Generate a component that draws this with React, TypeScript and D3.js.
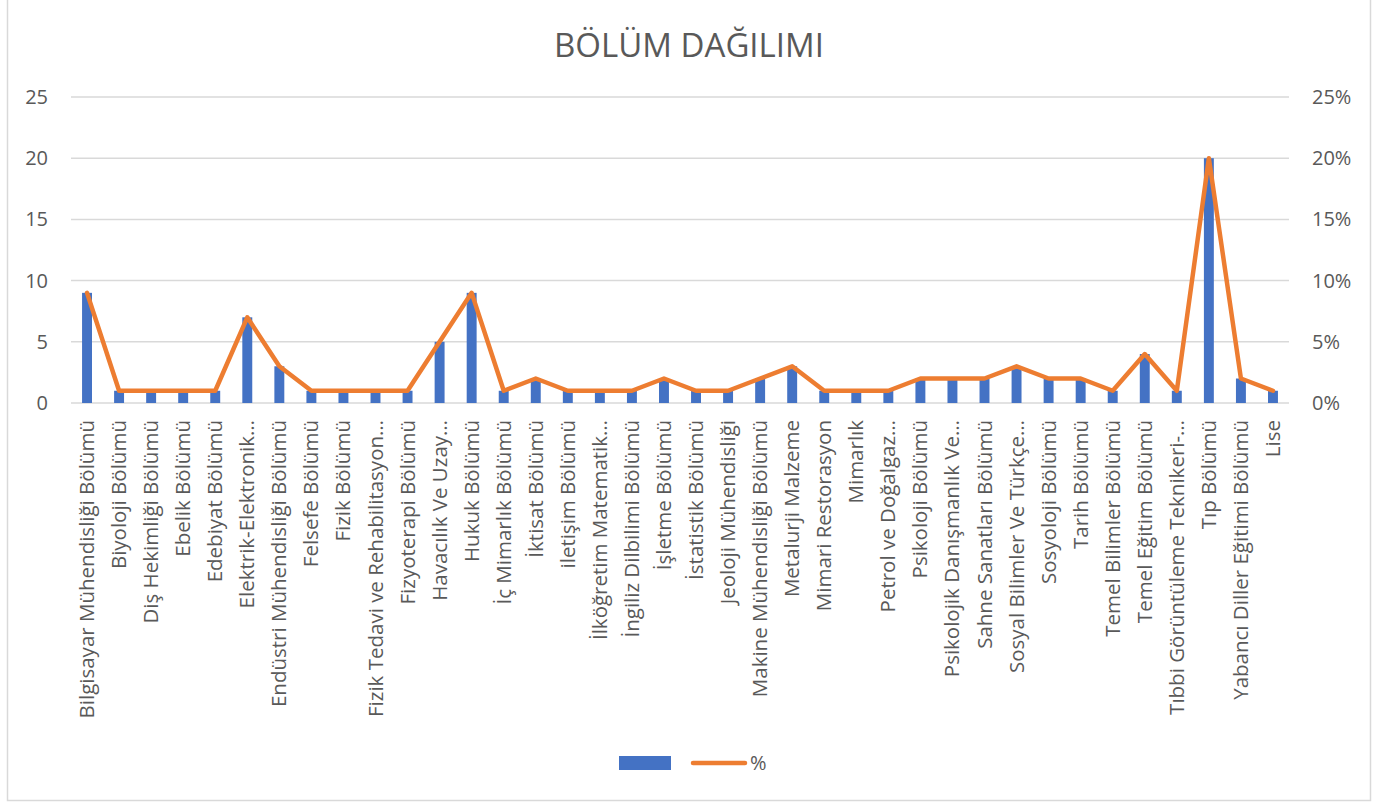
import React, { useEffect, useRef } from 'react';
import * as d3 from 'd3';

// Department names as shown on the axis (Excel truncates the long ones)
const departments = [
  'Bilgisayar Mühendisliği Bölümü',
  'Biyoloji Bölümü',
  'Diş Hekimliği Bölümü',
  'Ebelik Bölümü',
  'Edebiyat Bölümü',
  'Elektrik-Elektronik…',
  'Endüstri Mühendisliği Bölümü',
  'Felsefe Bölümü',
  'Fizik Bölümü',
  'Fizik Tedavi ve Rehabilitasyon…',
  'Fizyoterapi Bölümü',
  'Havacılık Ve Uzay…',
  'Hukuk Bölümü',
  'İç Mimarlık Bölümü',
  'İktisat Bölümü',
  'iletişim Bölümü',
  'İlköğretim Matematik…',
  'İngiliz Dilbilimi Bölümü',
  'İşletme Bölümü',
  'İstatistik Bölümü',
  'Jeoloji Mühendisliği',
  'Makine Mühendisliği Bölümü',
  'Metalurji Malzeme',
  'Mimari Restorasyon',
  'Mimarlık',
  'Petrol ve Doğalgaz…',
  'Psikoloji Bölümü',
  'Psikolojik Danışmanlık Ve…',
  'Sahne Sanatları Bölümü',
  'Sosyal Bilimler Ve Türkçe…',
  'Sosyoloji Bölümü',
  'Tarih Bölümü',
  'Temel Bilimler Bölümü',
  'Temel Eğitim Bölümü',
  'Tıbbi Görüntüleme Teknikeri-…',
  'Tıp Bölümü',
  'Yabancı Diller Eğitimi Bölümü',
  'Lise',
];

// Number of people per department (bars, left axis)
const counts = [9, 1, 1, 1, 1, 7, 3, 1, 1, 1, 1, 5, 9, 1, 2, 1, 1, 1, 2, 1, 1, 2, 3, 1, 1, 1, 2, 2, 2, 3, 2, 2, 1, 4, 1, 20, 2, 1];

// Share in percent (line, right axis)
const percents = [9, 1, 1, 1, 1, 7, 3, 1, 1, 1, 1, 5, 9, 1, 2, 1, 1, 1, 2, 1, 1, 2, 3, 1, 1, 1, 2, 2, 2, 3, 2, 2, 1, 4, 1, 20, 2, 1];

const leftTicks = [0, 5, 10, 15, 20, 25];
const rightTicks = [0, 5, 10, 15, 20, 25];

const FONT = '"Open Sans", "DejaVu Sans", sans-serif';
const TEXT = '#595959';

const App = () => {
  const ref = useRef<SVGSVGElement>(null);

  useEffect(() => {
    const width = 1396;
    const height = 805;
    const plot = { left: 71, right: 1289, top: 97, bottom: 403 };

    const svg = d3.select(ref.current);
    svg.selectAll('*').remove();
    svg.attr('width', width).attr('height', height);

    // Chart frame
    svg.append('rect')
      .attr('x', 7.5).attr('y', -2)
      .attr('width', 1363).attr('height', 802.5)
      .attr('fill', '#fff')
      .attr('stroke', '#d9d9d9')
      .attr('stroke-width', 1.5);

    // Title
    svg.append('text')
      .attr('x', 689).attr('y', 57)
      .attr('text-anchor', 'middle')
      .style('font-family', FONT)
      .style('font-size', '33px')
      .style('fill', TEXT)
      .text('BÖLÜM DAĞILIMI');

    const x = d3.scaleBand()
      .domain(departments)
      .range([plot.left, plot.right])
      .paddingInner(0.69)
      .paddingOuter(0.345);

    const yLeft = d3.scaleLinear().domain([0, 25]).range([plot.bottom, plot.top]);
    const yRight = d3.scaleLinear().domain([0, 25]).range([plot.bottom, plot.top]);

    // Gridlines
    svg.append('g')
      .selectAll('line')
      .data(leftTicks)
      .enter()
      .append('line')
      .attr('x1', plot.left).attr('x2', plot.right)
      .attr('y1', (d) => yLeft(d)).attr('y2', (d) => yLeft(d))
      .attr('stroke', '#d9d9d9')
      .attr('stroke-width', 1.5);

    // Left axis labels
    svg.append('g')
      .selectAll('text')
      .data(leftTicks)
      .enter()
      .append('text')
      .attr('x', 48)
      .attr('y', (d) => yLeft(d))
      .attr('dy', '0.35em')
      .attr('text-anchor', 'end')
      .style('font-family', FONT)
      .style('font-size', '20px')
      .style('fill', TEXT)
      .text((d) => String(d));

    // Right axis labels
    svg.append('g')
      .selectAll('text')
      .data(rightTicks)
      .enter()
      .append('text')
      .attr('x', 1312)
      .attr('y', (d) => yRight(d))
      .attr('dy', '0.35em')
      .attr('text-anchor', 'start')
      .style('font-family', FONT)
      .style('font-size', '20px')
      .style('fill', TEXT)
      .text((d) => d + '%');

    // Bars
    svg.append('g')
      .selectAll('rect')
      .data(counts)
      .enter()
      .append('rect')
      .attr('x', (_, i) => x(departments[i]) as number)
      .attr('y', (d) => yLeft(d))
      .attr('width', x.bandwidth())
      .attr('height', (d) => yLeft(0) - yLeft(d))
      .attr('fill', '#4472c4');

    // Percent line
    const line = d3.line<number>()
      .x((_, i) => (x(departments[i]) as number) + x.bandwidth() / 2)
      .y((d) => yRight(d));

    svg.append('path')
      .datum(percents)
      .attr('d', line)
      .attr('fill', 'none')
      .attr('stroke', '#ed7d31')
      .attr('stroke-width', 4.5)
      .attr('stroke-linejoin', 'round')
      .attr('stroke-linecap', 'round');

    // Category labels, rotated
    svg.append('g')
      .selectAll('text')
      .data(departments)
      .enter()
      .append('text')
      .attr('transform', (d) => {
        const cx = (x(d) as number) + x.bandwidth() / 2;
        return `translate(${cx + 7}, 420) rotate(-90)`;
      })
      .attr('text-anchor', 'end')
      .style('font-family', FONT)
      .style('font-size', '20.5px')
      .style('fill', TEXT)
      .text((d) => d);

    // Legend
    const legend = svg.append('g');
    legend.append('rect')
      .attr('x', 619).attr('y', 756)
      .attr('width', 52).attr('height', 14)
      .attr('fill', '#4472c4');
    legend.append('line')
      .attr('x1', 693).attr('x2', 745)
      .attr('y1', 763).attr('y2', 763)
      .attr('stroke', '#ed7d31')
      .attr('stroke-width', 4.5)
      .attr('stroke-linecap', 'round');
    legend.append('text')
      .attr('x', 750).attr('y', 763)
      .attr('dy', '0.35em')
      .style('font-family', FONT)
      .style('font-size', '20px')
      .style('fill', TEXT)
      .text('%');
  }, []);

  return (
    <div style={{ position: 'absolute', left: 0, top: 0 }}>
      <svg ref={ref} />
    </div>
  );
};

export default App;
